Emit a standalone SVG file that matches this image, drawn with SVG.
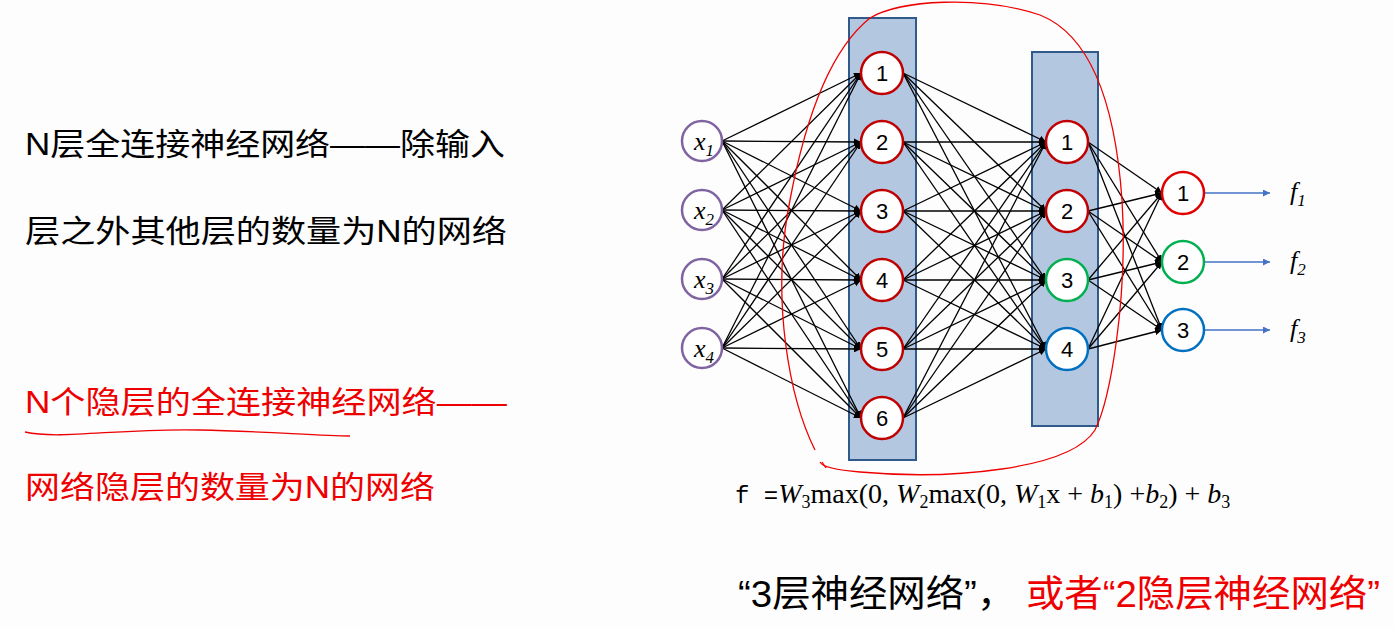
<svg xmlns="http://www.w3.org/2000/svg" width="1394" height="628" viewBox="0 0 1394 628">
<defs>
<marker id="ah" viewBox="0 0 10 10" refX="10" refY="5" markerWidth="7" markerHeight="7" orient="auto" markerUnits="userSpaceOnUse"><path d="M0,0L10,5L0,10z" fill="#000"/></marker>
<marker id="bh" viewBox="0 0 10 10" refX="10" refY="5" markerWidth="7" markerHeight="7" orient="auto" markerUnits="userSpaceOnUse"><path d="M0,0L10,5L0,10z" fill="#4472c4"/></marker>
<style>
.e line{stroke:#000;stroke-width:1.3;marker-end:url(#ah)}
.box{fill:#b4c7e1;stroke:#2f5a8a;stroke-width:2}
.n{fill:#fff;stroke-width:2.5}
.t{font-family:"Liberation Sans","Noto Sans CJK SC",sans-serif;font-size:22px;text-anchor:middle}
.x{font-family:"Liberation Serif",serif;font-style:italic;font-size:26px}
.cn{font-family:"Liberation Sans","Noto Sans CJK SC",sans-serif;font-size:31px}
</style>
</defs>
<rect width="1394" height="628" fill="#fdfdfd"/>
<text class="cn" x="25" y="155" textLength="480" lengthAdjust="spacingAndGlyphs">N层全连接神经网络——除输入</text>
<text class="cn" x="25" y="242" textLength="482" lengthAdjust="spacingAndGlyphs">层之外其他层的数量为N的网络</text>
<text class="cn" x="25" y="413" fill="#e00" textLength="482" lengthAdjust="spacingAndGlyphs">N个隐层的全连接神经网络——</text>
<text class="cn" x="25" y="498" fill="#e00" textLength="410" lengthAdjust="spacingAndGlyphs">网络隐层的数量为N的网络</text>
<path d="M25,432 C60,440 120,428 200,430 C260,431 320,436 350,436" fill="none" stroke="#e00" stroke-width="1.3"/>
<rect class="box" x="849" y="18" width="67" height="442"/>
<rect class="box" x="1032" y="52" width="66" height="374"/>
<g class="e" id="connectors">
<line x1="722" y1="141" x2="861" y2="73"/><line x1="722" y1="141" x2="861" y2="142"/><line x1="722" y1="141" x2="861" y2="211"/><line x1="722" y1="141" x2="861" y2="280"/><line x1="722" y1="141" x2="861" y2="349"/><line x1="722" y1="141" x2="861" y2="418"/>
<line x1="722" y1="210" x2="861" y2="73"/><line x1="722" y1="210" x2="861" y2="142"/><line x1="722" y1="210" x2="861" y2="211"/><line x1="722" y1="210" x2="861" y2="280"/><line x1="722" y1="210" x2="861" y2="349"/><line x1="722" y1="210" x2="861" y2="418"/>
<line x1="722" y1="279" x2="861" y2="73"/><line x1="722" y1="279" x2="861" y2="142"/><line x1="722" y1="279" x2="861" y2="211"/><line x1="722" y1="279" x2="861" y2="280"/><line x1="722" y1="279" x2="861" y2="349"/><line x1="722" y1="279" x2="861" y2="418"/>
<line x1="722" y1="348" x2="861" y2="73"/><line x1="722" y1="348" x2="861" y2="142"/><line x1="722" y1="348" x2="861" y2="211"/><line x1="722" y1="348" x2="861" y2="280"/><line x1="722" y1="348" x2="861" y2="349"/><line x1="722" y1="348" x2="861" y2="418"/>
<line x1="903" y1="73" x2="1046" y2="142"/><line x1="903" y1="73" x2="1046" y2="211"/><line x1="903" y1="73" x2="1046" y2="280"/><line x1="903" y1="73" x2="1046" y2="349"/>
<line x1="903" y1="142" x2="1046" y2="142"/><line x1="903" y1="142" x2="1046" y2="211"/><line x1="903" y1="142" x2="1046" y2="280"/><line x1="903" y1="142" x2="1046" y2="349"/>
<line x1="903" y1="211" x2="1046" y2="142"/><line x1="903" y1="211" x2="1046" y2="211"/><line x1="903" y1="211" x2="1046" y2="280"/><line x1="903" y1="211" x2="1046" y2="349"/>
<line x1="903" y1="280" x2="1046" y2="142"/><line x1="903" y1="280" x2="1046" y2="211"/><line x1="903" y1="280" x2="1046" y2="280"/><line x1="903" y1="280" x2="1046" y2="349"/>
<line x1="903" y1="349" x2="1046" y2="142"/><line x1="903" y1="349" x2="1046" y2="211"/><line x1="903" y1="349" x2="1046" y2="280"/><line x1="903" y1="349" x2="1046" y2="349"/>
<line x1="903" y1="418" x2="1046" y2="142"/><line x1="903" y1="418" x2="1046" y2="211"/><line x1="903" y1="418" x2="1046" y2="280"/><line x1="903" y1="418" x2="1046" y2="349"/>
<line x1="1088" y1="142" x2="1162" y2="193"/><line x1="1088" y1="142" x2="1162" y2="262"/><line x1="1088" y1="142" x2="1162" y2="330"/>
<line x1="1088" y1="211" x2="1162" y2="193"/><line x1="1088" y1="211" x2="1162" y2="262"/><line x1="1088" y1="211" x2="1162" y2="330"/>
<line x1="1088" y1="280" x2="1162" y2="193"/><line x1="1088" y1="280" x2="1162" y2="262"/><line x1="1088" y1="280" x2="1162" y2="330"/>
<line x1="1088" y1="349" x2="1162" y2="193"/><line x1="1088" y1="349" x2="1162" y2="262"/><line x1="1088" y1="349" x2="1162" y2="330"/>
<line x1="1204" y1="193" x2="1270" y2="193" style="stroke:#4472c4;marker-end:url(#bh)"/>
<line x1="1204" y1="262" x2="1270" y2="262" style="stroke:#4472c4;marker-end:url(#bh)"/>
<line x1="1204" y1="330" x2="1270" y2="330" style="stroke:#4472c4;marker-end:url(#bh)"/>
</g>
<g id="in1"><circle class="n" cx="702" cy="141" r="20" stroke="#8064a2"/><text class="x" x="694" y="150">x<tspan font-size="17" dy="6">1</tspan></text></g>
<g id="in2"><circle class="n" cx="702" cy="210" r="20" stroke="#8064a2"/><text class="x" x="694" y="219">x<tspan font-size="17" dy="6">2</tspan></text></g>
<g id="in3"><circle class="n" cx="702" cy="279" r="20" stroke="#8064a2"/><text class="x" x="694" y="288">x<tspan font-size="17" dy="6">3</tspan></text></g>
<g id="in4"><circle class="n" cx="702" cy="348" r="20" stroke="#8064a2"/><text class="x" x="694" y="357">x<tspan font-size="17" dy="6">4</tspan></text></g>
<g id="h1n1"><circle class="n" cx="882" cy="73" r="21" stroke="#c00000"/><text class="t" x="882" y="81">1</text></g>
<g id="h1n2"><circle class="n" cx="882" cy="142" r="21" stroke="#c00000"/><text class="t" x="882" y="150">2</text></g>
<g id="h1n3"><circle class="n" cx="882" cy="211" r="21" stroke="#c00000"/><text class="t" x="882" y="219">3</text></g>
<g id="h1n4"><circle class="n" cx="882" cy="280" r="21" stroke="#c00000"/><text class="t" x="882" y="288">4</text></g>
<g id="h1n5"><circle class="n" cx="882" cy="349" r="21" stroke="#c00000"/><text class="t" x="882" y="357">5</text></g>
<g id="h1n6"><circle class="n" cx="882" cy="418" r="21" stroke="#c00000"/><text class="t" x="882" y="426">6</text></g>
<g id="h2n1"><circle class="n" cx="1067" cy="142" r="21" stroke="#c00000"/><text class="t" x="1067" y="150">1</text></g>
<g id="h2n2"><circle class="n" cx="1067" cy="211" r="21" stroke="#c00000"/><text class="t" x="1067" y="219">2</text></g>
<g id="h2n3"><circle class="n" cx="1067" cy="280" r="21" stroke="#00b050"/><text class="t" x="1067" y="288">3</text></g>
<g id="h2n4"><circle class="n" cx="1067" cy="349" r="21" stroke="#0070c0"/><text class="t" x="1067" y="357">4</text></g>
<g id="o1"><circle class="n" cx="1183" cy="193" r="21" stroke="#e00000"/><text class="t" x="1183" y="201">1</text></g>
<g id="o2"><circle class="n" cx="1183" cy="262" r="21" stroke="#00b050"/><text class="t" x="1183" y="270">2</text></g>
<g id="o3"><circle class="n" cx="1183" cy="330" r="21" stroke="#0070c0"/><text class="t" x="1183" y="338">3</text></g>
<text class="x" x="1290" y="200">f<tspan font-size="17" dy="6">1</tspan></text>
<text class="x" x="1290" y="269">f<tspan font-size="17" dy="6">2</tspan></text>
<text class="x" x="1290" y="337">f<tspan font-size="17" dy="6">3</tspan></text>
<path d="M815,450 C790,400 770,300 790,200 C805,120 830,50 870,18 C900,0 980,-5 1040,15 C1090,35 1115,100 1122,200 C1128,300 1110,400 1095,430 C1070,470 950,480 860,472 C835,470 822,466 820,462" fill="none" stroke="#e00" stroke-width="1.3"/>
<path d="M822,462 L826,468" stroke="#e00" stroke-width="1.3"/>
<text x="735" y="503" font-family="Liberation Serif,serif" font-size="28"><tspan font-family="Liberation Mono,monospace" font-size="24">f =</tspan><tspan font-style="italic">W</tspan><tspan font-size="18" dy="5">3</tspan><tspan dy="-5">max(0, </tspan><tspan font-style="italic">W</tspan><tspan font-size="18" dy="5">2</tspan><tspan dy="-5">max(0, </tspan><tspan font-style="italic">W</tspan><tspan font-size="18" dy="5">1</tspan><tspan dy="-5">x + </tspan><tspan font-style="italic">b</tspan><tspan font-size="18" dy="5">1</tspan><tspan dy="-5">) +</tspan><tspan font-style="italic">b</tspan><tspan font-size="18" dy="5">2</tspan><tspan dy="-5">) + </tspan><tspan font-style="italic">b</tspan><tspan font-size="18" dy="5">3</tspan></text>
<text x="738" y="607" font-family="Liberation Sans,Noto Sans CJK SC,sans-serif" font-size="37" textLength="642" lengthAdjust="spacingAndGlyphs">“3层神经网络”， <tspan fill="#e00">或者“2隐层神经网络”</tspan></text>
</svg>
